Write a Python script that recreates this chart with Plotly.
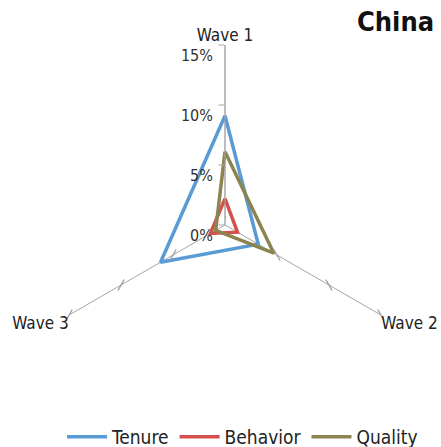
import plotly.graph_objects as go

waves = ["Wave 1", "Wave 2", "Wave 3"]
tenure = [9.1, 3.2, 6.2]
behavior = [2.2, 1.2, 1.4]
quality = [6.1, 4.7, 0.9]
radial_ticks = [0, 5, 10, 15]
tick_labels = ["0%", "5%", "10%", "15%"]

series = [
    ("Tenure", tenure, "#5B9BD5"),
    ("Behavior", behavior, "#D4504D"),
    ("Quality", quality, "#8C8450"),
]

FONT = "DejaVu Sans Condensed, Liberation Sans Narrow, sans-serif"

fig = go.Figure()

for name, vals, color in series:
    fig.add_trace(go.Scatterpolar(
        r=vals + vals[:1], theta=waves + waves[:1], mode="lines", name=name,
        line=dict(color=color, width=3.5),
    ))

# small tick marks across the Wave 2 and Wave 3 spokes
for wave, ang in [("Wave 2", 60), ("Wave 3", -60)]:
    fig.add_trace(go.Scatterpolar(
        r=radial_ticks[1:], theta=[wave] * 3, mode="markers",
        marker=dict(symbol="line-ew", size=9, angle=ang,
                    line=dict(color="#9A9A9A", width=1.3)),
        showlegend=False, hoverinfo="skip",
    ))

# percentage labels sit a little below their tick marks
radial_text = ["<br>" + t for t in tick_labels]

fig.update_layout(
    width=441, height=447,
    margin=dict(l=0, r=0, t=0, b=0, autoexpand=False),
    paper_bgcolor="white",
    font=dict(family=FONT, color="#222222"),
    polar=dict(
        domain=dict(x=[45 / 441, 405 / 441], y=[42 / 447, 402 / 447]),
        bgcolor="white",
        radialaxis=dict(
            range=[0, 15], tickvals=radial_ticks, ticktext=radial_text,
            angle=90, tickangle=90, side="counterclockwise",
            showgrid=False, showline=True, linecolor="#A6A6A6", linewidth=1,
            ticks="outside", ticklen=6, tickcolor="#A6A6A6",
            tickfont=dict(size=16, color="#333333"),
        ),
        angularaxis=dict(
            rotation=90, direction="clockwise",
            categoryorder="array", categoryarray=waves,
            showline=False, showgrid=True, gridcolor="#A6A6A6", gridwidth=1,
            ticks="", tickfont=dict(size=17, color="#222222"),
        ),
    ),
    legend=dict(
        orientation="h", x=0.55, xanchor="center", y=-0.02, yanchor="bottom",
        font=dict(size=19, color="#222222"), itemwidth=40,
    ),
    annotations=[dict(
        text="<b>China</b>", x=395 / 441, y=1 - 22 / 447, xref="paper", yref="paper",
        xanchor="center", yanchor="middle",
        showarrow=False, font=dict(size=27, color="#111111"),
    )],
)

fig.write_html("out.html")
